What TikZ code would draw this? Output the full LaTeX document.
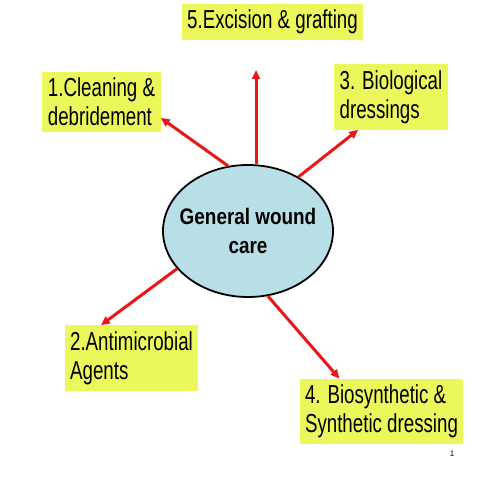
\documentclass[tikz,border=0pt]{standalone}
\usepackage{fontspec}
\setmainfont{Liberation Sans}
\newfontfamily\narrowsans[FakeStretch=0.72]{Liberation Sans}
\newfontfamily\narrowbold[FakeStretch=0.84,BoldFont={Liberation Sans Bold}]{Liberation Sans Bold}
\usetikzlibrary{arrows.meta,shapes.geometric}
\definecolor{fillY}{RGB}{236,247,92}
\definecolor{fillE}{RGB}{185,223,230}
\definecolor{arrR}{RGB}{236,22,22}

\begin{document}
\begin{tikzpicture}[x=1pt, y=1pt, >={Triangle[length=9pt,width=8pt]}, line cap=round,
  topic/.style={fill=fillY, align=left, inner xsep=5.5pt, inner ysep=6pt,
    font=\narrowsans\fontsize{26}{29}\selectfont},
  spoke/.style={->, draw=arrR, line width=3pt, line cap=butt}]
\useasboundingbox (0,0) rectangle (480,480);
% centre
\node[ellipse, draw, line width=1.8pt, fill=fillE, inner sep=0pt,
  minimum width=170pt, minimum height=132pt,
  label={[align=center, font=\narrowbold\fontsize{22.5}{29}\selectfont]center:General wound\\care}]
  (ell) at (248,249) {};
% topics
\node[topic] (b5) at (272.5,458) {5.Excision \& grafting};
\node[topic] (b1) at (101.5,378) {1.Cleaning \&\\debridement};
\node[topic] (b3) at (391,383) {3. Biological\\dressings};
\node[topic] (b2) at (131.5,122) {2.Antimicrobial\\Agents};
\node[topic] (b4) at (381.5,68.5) {4. Biosynthetic \&\\Synthetic dressing};
\coordinate (t5) at (256,410);
% spokes
\draw[spoke] (ell.107) -- (b1.-15);
\draw[spoke] (t5 |- ell.north) -- (t5);
\draw[spoke] (ell.47) -- (b3.225);
\draw[spoke] (ell.208) -- (b2.133);
\draw[spoke] (ell.-73) -- (b4.142);
% page number
\node[font=\fontsize{8}{9}\selectfont] (pg) at (452,26) {1};
\end{tikzpicture}
\end{document}
